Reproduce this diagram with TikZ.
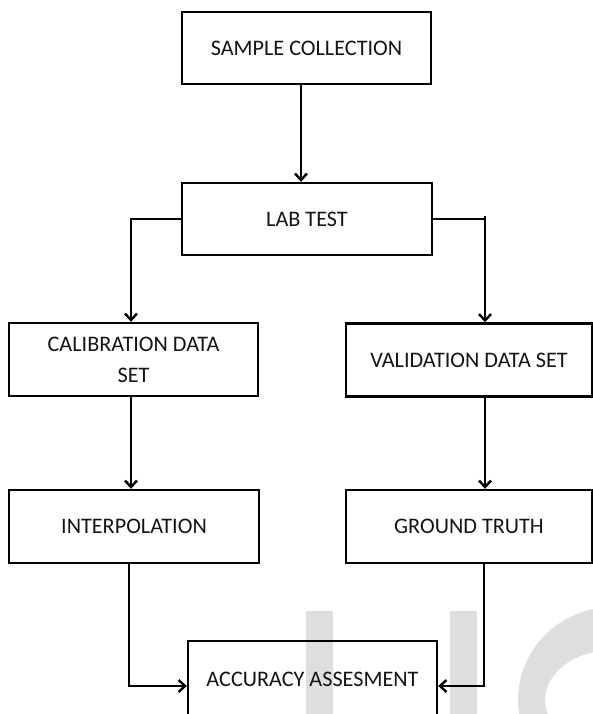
\documentclass[tikz,border=0pt]{standalone}
\usepackage{fontspec}
\setmainfont{Carlito}
\usetikzlibrary{arrows.meta}
\definecolor{wmgray}{RGB}{222,222,222}
\definecolor{txt}{RGB}{20,20,20}
\begin{document}
\begin{tikzpicture}[x=1pt,y=-1pt,
  box/.style={draw=black, line width=2.4pt, rectangle, inner sep=0pt,
    align=center, text=txt, font=\fontsize{22.2}{31}\selectfont},
  arr/.style={line width=2.4pt, -{Straight Barb[length=6.5pt,width=12pt]}},
  conn/.style={line width=2.4pt},
  wm/.style={fill=wmgray}]
\useasboundingbox (0,0) rectangle (593,714);
% watermark
\begin{scope}
\clip (0,0) rectangle (593,714);
\fill[wm] (306,611) rectangle (333,720);
\fill[wm] (450,611) rectangle (477,720);
\fill[wm, even odd rule] (613,700) ellipse [x radius=95, y radius=93]
  (613,700) ellipse [x radius=68, y radius=50];
\end{scope}
% boxes
\node[box, minimum width=249pt, minimum height=72pt] (sc) at (306.5,48) {SAMPLE COLLECTION};
\node[box, minimum width=250pt, minimum height=72pt] (lab) at (307,219) {LAB TEST};
\node[box, minimum width=249pt, minimum height=73pt] (cal) at (133.5,359.5) {CALIBRATION DATA\\SET};
\node[box, minimum width=246pt, minimum height=73pt] (val) at (469,360) {VALIDATION DATA SET};
\node[box, minimum width=250pt, minimum height=73pt] (interp) at (134,526.5) {INTERPOLATION};
\node[box, minimum width=246pt, minimum height=73pt] (gt) at (469,526.5) {GROUND TRUTH};
\node[box, minimum width=249pt, minimum height=76pt] (acc) at (312.5,679) {ACCURACY ASSESMENT};
% lanes
\coordinate (xM) at (301,0);
\coordinate (xL) at (131,0);
\coordinate (xR) at (485,0);
\coordinate (xL2) at (129,0);
\coordinate (xR2) at (484,0);
\coordinate (yB) at (0,686);
% connectors
\draw[arr] (sc.south -| xM) -- (lab.north -| xM);
\draw[arr] (lab.west) -| (cal.north -| xL);
\draw[conn] (lab.east) -- (lab.east -| xR);
\draw[arr] ([yshift=3pt]lab.east -| xR) -- (val.north -| xR);
\draw[arr] (cal.south -| xL) -- (interp.north -| xL);
\draw[arr] (val.south -| xR) -- (gt.north -| xR);
\draw[arr] (interp.south -| xL2) |- (acc.west |- yB);
\draw[arr] (gt.south -| xR2) |- (acc.east |- yB);
\end{tikzpicture}
\end{document}
